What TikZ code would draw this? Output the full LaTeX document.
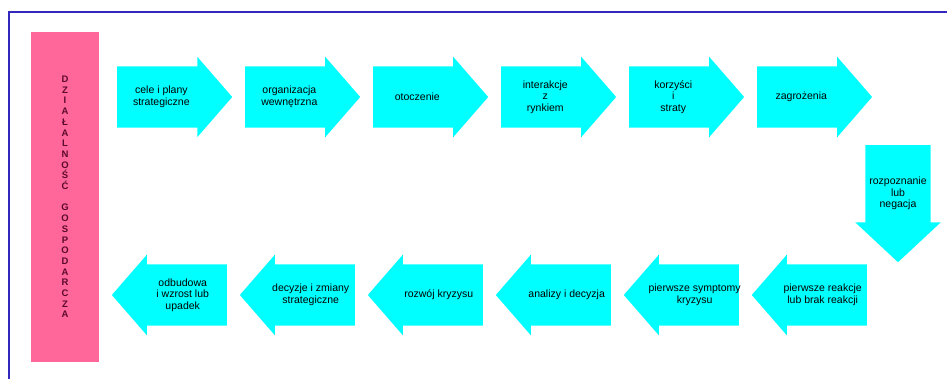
\documentclass[tikz,border=0pt]{standalone}
\usepackage{fontspec}
\setmainfont{Liberation Sans}
\usetikzlibrary{positioning, shapes.arrows}
\definecolor{flowcyan}{RGB}{0, 255, 255}
\definecolor{barpink}{RGB}{255, 102, 153}
\definecolor{barletter}{RGB}{90, 10, 45}
\definecolor{frameblue}{RGB}{50, 40, 190}

\begin{document}
\begin{tikzpicture}[
  x=1pt, y=-1pt,
  arrowbase/.style={single arrow, fill=flowcyan, draw=none,
                    font=\fontsize{10.5}{11.5}\selectfont},
  stage/.style={arrowbase, minimum height=115pt, single arrow head extend=9.5pt,
                single arrow tip angle=98, inner xsep=-30pt, inner ysep=0pt,
                execute at begin node={\begin{minipage}[c][61pt][c]{100pt}\centering},
                execute at end node={\end{minipage}}},
  back/.style={stage, shape border rotate=180},
  turn/.style={arrowbase, shape border rotate=270, minimum height=117pt,
               single arrow head extend=10pt, single arrow tip angle=94, inner sep=0pt,
               execute at begin node={\begin{minipage}[c][40pt][c]{65pt}\vspace*{10pt}\centering},
               execute at end node={\end{minipage}}},
  node distance=12.5pt
]
  \useasboundingbox (0,0) rectangle (947,379);
  \draw[frameblue, line width=1.5pt] (9,379) |- (947,12);

  \node[fill=barpink, minimum width=68pt, minimum height=330pt, align=center,
        text=barletter, font=\fontsize{9.5}{10.7}\selectfont\bfseries] (bar) at (65,197)
    {D\\Z\\I\\A\\Ł\\A\\L\\N\\O\\Ś\\Ć\\\mbox{}\\G\\O\\S\\P\\O\\D\\A\\R\\C\\Z\\A};

  % top row
  \node[stage, anchor=tail] (cele) at (117,97) {cele i plany\\strategiczne};
  \node[stage, right=of cele] (organizacja) {organizacja\\wewnętrzna};
  \node[stage, right=of organizacja] (otoczenie) {otoczenie};
  \node[stage, right=of otoczenie] (interakcje) {interakcje\\z\\rynkiem};
  \node[stage, right=of interakcje] (korzysci) {korzyści\\i\\straty};
  \node[stage, right=of korzysci] (zagrozenia) {zagrożenia};

  % turn down
  \node[turn, anchor=tail] (rozpoznanie) at (898,145) {rozpoznanie\\lub\\negacja};

  % bottom row
  \node[back, anchor=tail] (reakcje) at (867,295) {pierwsze reakcje\\lub brak reakcji};
  \node[back, left=of reakcje] (symptomy) {pierwsze symptomy\\kryzysu};
  \node[back, left=of symptomy] (analizy) {analizy i decyzja};
  \node[back, left=of analizy] (rozwoj) {rozwój kryzysu};
  \node[back, left=of rozwoj] (decyzje) {decyzje i zmiany\\strategiczne};
  \node[back, left=of decyzje] (odbudowa) {odbudowa\\i wzrost lub\\upadek};
\end{tikzpicture}
\end{document}
